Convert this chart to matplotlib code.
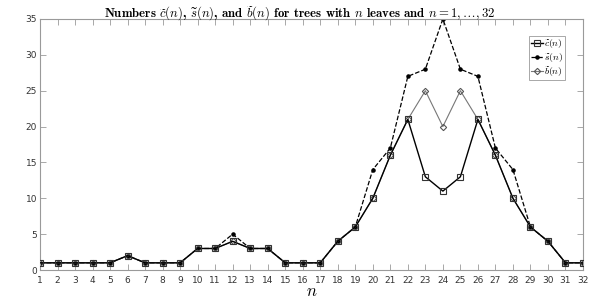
import numpy as np
import matplotlib.pyplot as plt

plt.rcParams['mathtext.fontset'] = 'cm'

n = np.arange(1, 33)
c_tilde = [1, 1, 1, 1, 1, 2, 1, 1, 1, 3, 3, 4, 3, 3, 1, 1,
           1, 4, 6, 10, 16, 21, 13, 11, 13, 21, 16, 10, 6, 4, 1, 1]
s_tilde = [1, 1, 1, 1, 1, 2, 1, 1, 1, 3, 3, 5, 3, 3, 1, 1,
           1, 4, 6, 14, 17, 27, 28, 35, 28, 27, 17, 14, 6, 4, 1, 1]
b_tilde = [1, 1, 1, 1, 1, 2, 1, 1, 1, 3, 3, 4, 3, 3, 1, 1,
           1, 4, 6, 10, 16, 21, 25, 20, 25, 21, 16, 10, 6, 4, 1, 1]

fig = plt.figure(figsize=(6.0, 3.01), dpi=100)
ax = fig.add_axes([40 / 600, 31 / 301, 543 / 600, 251 / 301])

ax.plot(n, c_tilde, '-s', color='black', lw=1.0, ms=4, mfc='none',
        mec='#333333', mew=0.8, label=r'$\widetilde{c}(n)$', zorder=3)
ax.plot(n, s_tilde, '--.', color='black', lw=0.9, ms=4.5,
        label=r'$\widetilde{s}(n)$', zorder=2)
ax.plot(n, b_tilde, '-D', color='#777777', lw=0.8, ms=3.2, mfc='none',
        mec='#555555', mew=0.8, label=r'$\widetilde{b}(n)$', zorder=2.5)

ax.set_xlim(1, 32)
ax.set_ylim(0, 35)
ax.set_xticks(n)
ax.set_yticks(np.arange(0, 36, 5))

grey = '#9a9a9a'
for sp in ax.spines.values():
    sp.set_color(grey)
    sp.set_linewidth(0.8)
ax.tick_params(direction='in', length=4, width=0.6, color=grey,
               labelsize=6.5, labelcolor='#333333', top=True, right=True)
ax.tick_params(axis='x', pad=4)
ax.tick_params(axis='y', pad=2)

ax.set_xlabel(r'$n$', fontsize=12, labelpad=-2)
fig.text(0.5, 1 - 18 / 301,
         r'Numbers $\widetilde{c}(n)$, $\widetilde{s}(n)$, and '
         r'$\widetilde{b}(n)$ for trees with $n$ leaves and $n=1,\ldots,32$',
         fontsize=9.2, fontweight='bold', family='cmb10',
         ha='center', va='baseline')

leg = ax.legend(loc='upper right', bbox_to_anchor=(0.97, 0.94), fontsize=7,
                handlelength=1.3, handletextpad=0.1, borderpad=0.15,
                labelspacing=0.05, borderaxespad=0.2, fancybox=False,
                framealpha=1, edgecolor=grey)
leg.get_frame().set_linewidth(0.6)

fig.savefig('out.png', dpi=100)
